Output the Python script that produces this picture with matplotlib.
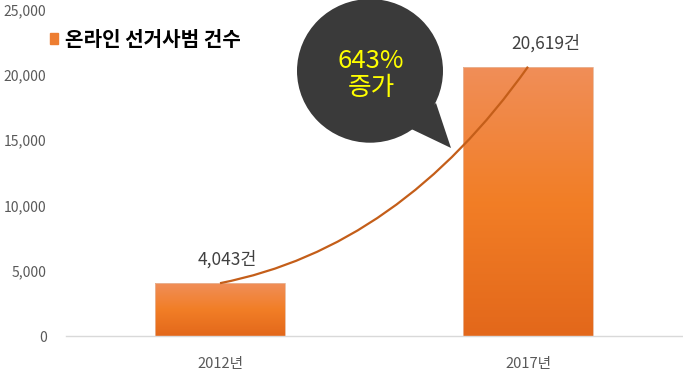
import numpy as np
import matplotlib
matplotlib.use('Agg')
import matplotlib.pyplot as plt
import matplotlib.patches as mpatches
from matplotlib.path import Path
from matplotlib.colors import LinearSegmentedColormap

plt.rcParams['font.family'] = ['Noto Sans CJK KR', 'DejaVu Sans']

# data
years = ['2012년', '2017년']
counts = [4043, 20619]
series_name = '온라인 선거사범 건수'
yticks = [0, 5000, 10000, 15000, 20000, 25000]
increase_text = '643%\n증가'

fig = plt.figure(figsize=(6.83, 3.77), dpi=100)
ax = fig.add_axes([66 / 683, 41 / 377, 616 / 683, 326.5 / 377])

x = np.arange(len(years))
bars = ax.bar(x, counts, width=0.42, color='none', edgecolor='none', zorder=2)

# gradient fill for each bar
grad = LinearSegmentedColormap.from_list('g', ['#E3681B', '#F27E26', '#F08E58'])
for b in bars:
    x0, w, h = b.get_x(), b.get_width(), b.get_height()
    img = ax.imshow(np.linspace(0, 1, 100).reshape(-1, 1), cmap=grad, origin='lower',
                    extent=[x0, x0 + w, 0, h], aspect='auto', zorder=2)
    img.set_clip_path(b)
    ax.add_patch(mpatches.Rectangle((x0, 0), w, h, fill=False, edgecolor='#e8b89a',
                                    lw=0.6, zorder=2.1))

ax.set_xlim(-0.5, 1.5)
ax.set_ylim(0, 25000)
ax.set_yticks(yticks)
ax.set_yticklabels(['{:,}'.format(v) for v in yticks])
ax.set_xticks(x)
ax.set_xticklabels(years)
ax.tick_params(axis='both', length=0, labelcolor='#595959')
ax.tick_params(axis='y', pad=14, labelsize=10)
ax.tick_params(axis='x', pad=15, labelsize=10.5)
for s in ['top', 'right', 'left']:
    ax.spines[s].set_visible(False)
ax.spines['bottom'].set_color('#d9d9d9')
ax.spines['bottom'].set_linewidth(1)

# curve joining the two bar tops
p0 = (x[0], counts[0])
p2 = (x[1], counts[1])
ctrl = (p0[0] + 0.584 * (p2[0] - p0[0]), p0[1] + 0.163 * (p2[1] - p0[1]))
curve = mpatches.PathPatch(Path([p0, ctrl, p2], [Path.MOVETO, Path.CURVE3, Path.CURVE3]),
                           fill=False, edgecolor='#C45E19', lw=1.6, zorder=3)
ax.add_patch(curve)

# value labels
offsets = [0.023, 0.058]
for i, v in enumerate(counts):
    ax.annotate('{:,}건'.format(v), (x[i] + offsets[i], v), xytext=(0, 10.5),
                textcoords='offset points', ha='center', va='bottom',
                fontsize=12.5, color='#404040', zorder=4)

# speech bubble
bub = '#3a3a3a'
ax.add_patch(mpatches.Ellipse((0.4935, 0.812), 0.237, 0.44, transform=ax.transAxes,
                              facecolor=bub, edgecolor='none', zorder=5, clip_on=False))
tail = [((405 - 66) / 616, (336 - 126) / 326.5),
        ((451 - 66) / 616, (336 - 148) / 326.5),
        ((436 - 66) / 616, (336 - 103) / 326.5)]
ax.add_patch(mpatches.Polygon(tail, closed=True, transform=ax.transAxes,
                              facecolor=bub, edgecolor='none', zorder=5, clip_on=False))
ax.text(0.495, 0.8, increase_text, transform=ax.transAxes, ha='center', va='center',
        fontsize=18.5, color='#FFFF00', fontweight='medium', linespacing=1.05, zorder=6)

# legend
handle = mpatches.Patch(color='#ED7D31', label=series_name)
fig.legend(handles=[handle], loc='center left', bbox_to_anchor=(50 / 683, 1 - 39 / 377),
           frameon=False, borderpad=0, borderaxespad=0, handlelength=0.41,
           handleheight=0.5, handletextpad=0.35,
           prop={'size': 14.5, 'weight': 'bold', 'family': ['Noto Sans CJK KR', 'DejaVu Sans']})

fig.savefig('out.png', dpi=100)
